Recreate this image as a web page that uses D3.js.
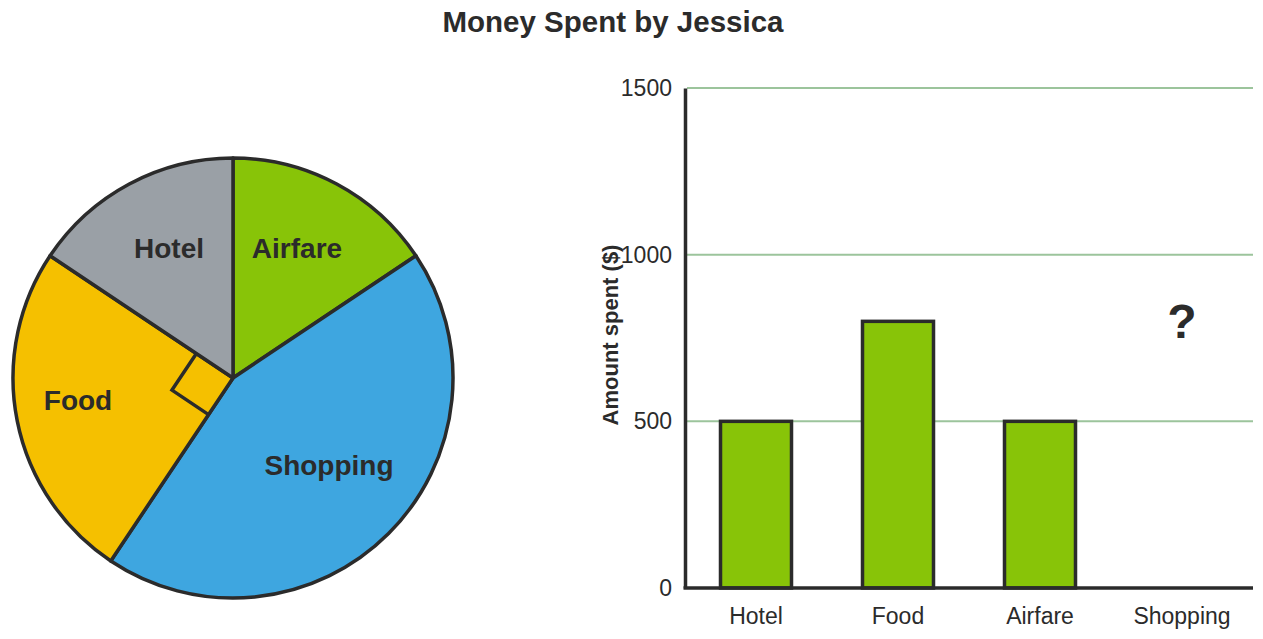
<!DOCTYPE html>
<html><head><meta charset="utf-8">
<script src="https://cdn.jsdelivr.net/npm/d3@7"></script>
<style>body{margin:0;background:#fff}svg{display:block;font-family:"Liberation Sans",Arial,sans-serif}</style>
</head><body>
<svg id="c" width="1263" height="639"></svg>
<script>
const title = "Money Spent by Jessica";
const categories = ["Hotel", "Food", "Airfare", "Shopping"];
const amounts = [500, 800, 500, null];          // Shopping unknown ("?")
const pieOrder = ["Airfare", "Shopping", "Food", "Hotel"];
const pieValues = [500, 1400, 800, 500];        // Food is a right angle (1/4 of 3200)
const pieColors = ["#88c408", "#3ea6e0", "#f5c000", "#9aa0a6"];
const yTicks = [0, 500, 1000, 1500];
const yLabel = "Amount spent ($)";

const svg = d3.select("#c");
const ink = "#2b2b2b";
const FF = "Liberation Sans, Arial, sans-serif";

svg.append("text").attr("x", 613).attr("y", 32).attr("text-anchor", "middle")
  .attr("font-size", 29.5).attr("font-weight", "bold").attr("fill", ink).text(title);

// Pie
const cx = 233, cy = 378, R = 220;
const pg = svg.append("g").attr("transform", `translate(${cx},${cy})`);
const arcs = d3.pie().sort(null).value(d => d)(pieValues);
const arc = d3.arc().innerRadius(0).outerRadius(R);
pg.selectAll("path.s").data(arcs).join("path").attr("class", "s")
  .attr("d", arc).attr("fill", (d, i) => pieColors[i])
  .attr("stroke", ink).attr("stroke-width", 3.5).attr("stroke-linejoin", "round");

// right-angle marker in Food slice
const food = arcs[2];
const s = 44;
const u = a => [Math.sin(a), -Math.cos(a)];
const u1 = u(food.startAngle), u2 = u(food.endAngle);
pg.append("path")
  .attr("d", `M${s*u1[0]},${s*u1[1]}L${s*(u1[0]+u2[0])},${s*(u1[1]+u2[1])}L${s*u2[0]},${s*u2[1]}`)
  .attr("fill", "none").attr("stroke", ink).attr("stroke-width", 3.5);

const pieLabelPos = {Airfare: [297, 248], Shopping: [329, 465], Food: [78, 400], Hotel: [169, 248]};
pieOrder.forEach(n => {
  svg.append("text").attr("x", pieLabelPos[n][0]).attr("y", pieLabelPos[n][1] + 10)
    .attr("text-anchor", "middle").attr("font-size", 28).attr("font-weight", "bold")
    .attr("fill", ink).text(n);
});

// Bar chart
const x = d3.scaleBand().domain(categories).range([685, 1253]).paddingInner(0.5).paddingOuter(0.25);
const y = d3.scaleLinear().domain([0, 1500]).range([588, 88]);

svg.append("g").selectAll("line").data(yTicks.filter(t => t > 0)).join("line")
  .attr("x1", 687).attr("x2", 1253).attr("y1", d => y(d)).attr("y2", d => y(d))
  .attr("stroke", "#9cc49c").attr("stroke-width", 2);

svg.append("g").selectAll("rect").data(categories.map((c, i) => ({c, v: amounts[i]})).filter(d => d.v != null))
  .join("rect").attr("x", d => x(d.c)).attr("width", x.bandwidth())
  .attr("y", d => y(d.v)).attr("height", d => y(0) - y(d.v))
  .attr("fill", "#88c408").attr("stroke", ink).attr("stroke-width", 3.5);

const ya = svg.append("g").attr("transform", "translate(685,0)")
  .call(d3.axisLeft(y).tickValues(yTicks).tickFormat(d3.format("d")).tickSize(0).tickPadding(13));
ya.select(".domain").attr("stroke", ink).attr("stroke-width", 3.5);
ya.selectAll("text").attr("font-size", 23).attr("fill", ink).attr("font-family", FF);

const xa = svg.append("g").attr("transform", "translate(0,588)")
  .call(d3.axisBottom(x).tickSize(0).tickPadding(20));
xa.select(".domain").attr("stroke", ink).attr("stroke-width", 3.5).attr("d", "M683.5,0H1253");
xa.selectAll("text").attr("font-size", 23).attr("fill", ink).attr("font-family", FF);

svg.append("text").attr("transform", "translate(618,335) rotate(-90)").attr("text-anchor", "middle")
  .attr("font-size", 22).attr("font-weight", "bold").attr("fill", ink).text(yLabel);

svg.append("text").attr("x", x("Shopping") + x.bandwidth() / 2).attr("y", 338)
  .attr("text-anchor", "middle").attr("font-size", 48).attr("font-weight", "bold").attr("fill", ink).text("?");
</script>
</body></html>
